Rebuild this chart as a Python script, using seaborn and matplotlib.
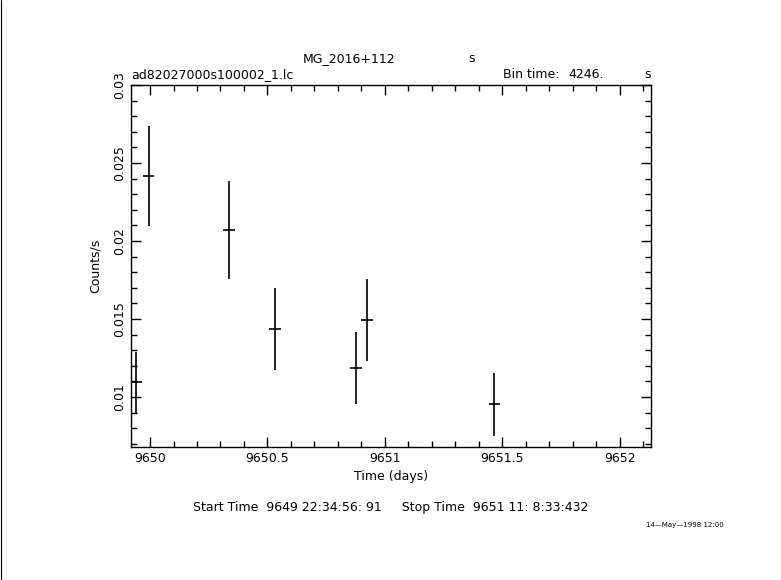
import matplotlib
matplotlib.use("Agg")
import matplotlib.pyplot as plt
import seaborn as sns
import numpy as np
import pandas as pd
from matplotlib.ticker import MultipleLocator, FuncFormatter
from matplotlib.lines import Line2D

# Light curve data
time_days = [9649.942, 9649.994, 9650.336, 9650.532, 9650.877, 9650.923, 9651.466]
rate = [0.01096, 0.02417, 0.0207, 0.01436, 0.01186, 0.01494, 0.00955]
rate_err = [0.00196, 0.0032, 0.00314, 0.0026, 0.00228, 0.0026, 0.00202]
bin_half_width = 4246.0 / 86400.0 / 2.0

df = pd.DataFrame({"time": time_days, "rate": rate, "err": rate_err})

sns.set_theme(style="ticks")
plt.rcParams["font.family"] = ["DejaVu Sans"]
plt.rcParams["text.color"] = "black"
plt.rcParams["axes.labelcolor"] = "black"

fig = plt.figure(figsize=(7.81, 5.80), dpi=100)
ax = fig.add_axes([0.1671, 0.2293, 0.6664, 0.6241])

# error crosses
ax.errorbar(df["time"], df["rate"], xerr=bin_half_width, yerr=df["err"],
            fmt="none", ecolor="black", elinewidth=1.2, capsize=0)

ax.set_xlim(9649.917, 9652.132)
ax.set_ylim(0.0068, 0.03)

ax.xaxis.set_major_locator(MultipleLocator(0.5))
ax.xaxis.set_minor_locator(MultipleLocator(0.1))
ax.yaxis.set_major_locator(MultipleLocator(0.005))
ax.yaxis.set_minor_locator(MultipleLocator(0.001))
ax.xaxis.set_major_formatter(FuncFormatter(lambda v, p: f"{v:g}"))
ax.yaxis.set_major_formatter(FuncFormatter(lambda v, p: f"{v:g}"))

ax.tick_params(which="both", direction="in", top=True, right=True, colors="black",
               labelcolor="black", labelsize=9, width=1)
ax.tick_params(which="major", length=7)
ax.tick_params(which="minor", length=4)
ax.tick_params(axis="y", labelrotation=90)
for lab in ax.get_yticklabels():
    lab.set_verticalalignment("center")
for spine in ax.spines.values():
    spine.set_visible(True)
    spine.set_color("black")
    spine.set_linewidth(1)

ax.set_xlabel("Time (days)", fontsize=9, labelpad=4)
ax.set_ylabel("Counts/s", fontsize=9, labelpad=8)

# header and footer texts
fig.text(349 / 781, 1 - 59 / 580, "MG_2016+112", fontsize=9, ha="center", va="center")
fig.text(472 / 781, 1 - 59 / 580, "s", fontsize=9, ha="center", va="center")
fig.text(131 / 781, 1 - 75 / 580, "ad82027000s100002_1.lc", fontsize=9, ha="left", va="center")
fig.text(503 / 781, 1 - 75 / 580, "Bin time:", fontsize=9, ha="left", va="center")
fig.text(568 / 781, 1 - 75 / 580, "4246.", fontsize=9, ha="left", va="center")
fig.text(648 / 781, 1 - 75 / 580, "s", fontsize=9, ha="center", va="center")
fig.text(391 / 781, 1 - 508 / 580,
         "Start Time  9649 22:34:56: 91     Stop Time  9651 11: 8:33:432",
         fontsize=9, ha="center", va="center")
fig.text(685 / 781, 1 - 525 / 580, "14\u2014May\u20141998 12:00", fontsize=5,
         ha="center", va="center")

# frame line at the left edge of the image
fig.add_artist(Line2D([0.0008, 0.0008], [0, 1], color="black", linewidth=0.8,
                      transform=fig.transFigure))

fig.savefig("out.png", dpi=100, facecolor="white")
